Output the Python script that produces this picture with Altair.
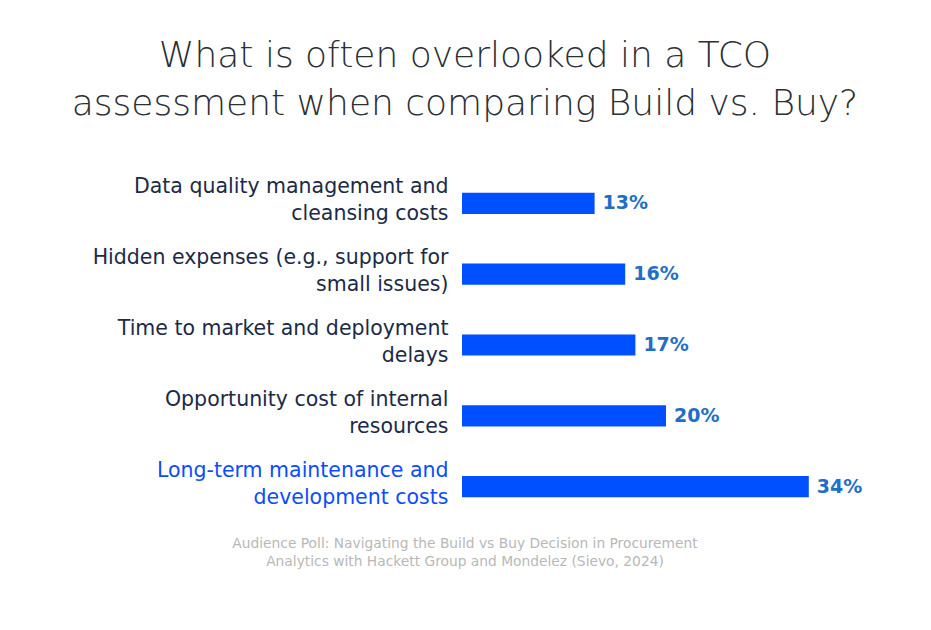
import altair as alt
import pandas as pd

categories = [
    "Data quality management and|cleansing costs",
    "Hidden expenses (e.g., support for|small issues)",
    "Time to market and deployment|delays",
    "Opportunity cost of internal|resources",
    "Long-term maintenance and|development costs",
]
values = [13, 16, 17, 20, 34]
value_labels = ["13%", "16%", "17%", "20%", "34%"]
title_lines = ["What is often overlooked in a TCO", "assessment when comparing Build vs. Buy?"]
footnote = "Audience Poll: Navigating the Build vs Buy Decision in Procurement\nAnalytics with Hackett Group and Mondelez (Sievo, 2024)"

df = pd.DataFrame({"cat": categories, "val": values, "lab": value_labels})
FONT = "DejaVu Sans"

y_enc = alt.Y(
    "cat:N",
    sort=categories,
    title=None,
    scale=alt.Scale(paddingInner=0.7, paddingOuter=0.35),
    axis=alt.Axis(
        domain=False,
        ticks=False,
        labelExpr="split(datum.label, '|')",
        labelFont=FONT,
        labelFontSize=20.5,
        labelLineHeight=27,
        labelPadding=14,
        labelLimit=500,
        labelBaseline="middle",
        labelOffset=-16,
        labelColor={"condition": {"test": "indexof(datum.value, 'Long-term') == 0", "value": "#0a4dff"}, "value": "#1b2a47"},
    ),
)
x_enc = alt.X("val:Q", scale=alt.Scale(domain=[0, 40]), axis=None)

bars = alt.Chart(df).mark_bar(color="#0050ff", cornerRadius=0).encode(x=x_enc, y=y_enc)
texts = alt.Chart(df).mark_text(
    align="left", baseline="middle", dx=8, font=FONT, fontSize=19, fontWeight="bold", color="#1f6ec8"
).encode(x=x_enc, y=y_enc, text="lab:N")
foot = alt.Chart(pd.DataFrame({"t": [footnote]})).mark_text(
    align="center", baseline="top", font=FONT, fontSize=13.8, color="#b8b8b8", lineBreak="\n", lineHeight=18
).encode(x=alt.value(3), y=alt.value(369), text="t:N")

chart = alt.layer(bars, texts, foot).properties(
    width=408,
    height=354,
    autosize=alt.AutoSizeParams(type="none"),
    padding={"left": 462, "top": 168, "right": 61, "bottom": 108},
    title=alt.TitleParams(
        text=title_lines,
        font=FONT,
        fontSize=36,
        fontWeight=200,
        color="#2a3035",
        anchor="middle",
        dx=-201,
        lineHeight=48,
        offset=45,
    ),
).configure(background="white").configure_view(stroke=None)

chart.save("out.html", embed_options={"renderer": "svg", "actions": False})
